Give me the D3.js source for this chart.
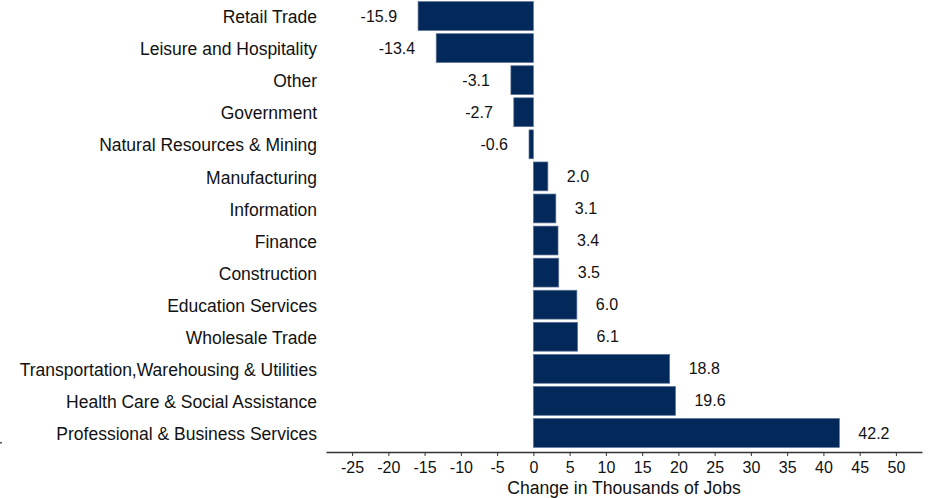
<!DOCTYPE html>
<html>
<head>
<meta charset="utf-8">
<script src="https://cdn.jsdelivr.net/npm/d3@7"></script>
<style>
  html, body { margin: 0; padding: 0; background: #fff; }
  svg { display: block; font-family: "Liberation Sans", Arial, sans-serif; }
</style>
</head>
<body>
<svg id="chart" width="928" height="498"></svg>
<script>
// Employment change by industry, thousands of jobs
const industries = [
  "Retail Trade",
  "Leisure and Hospitality",
  "Other",
  "Government",
  "Natural Resources & Mining",
  "Manufacturing",
  "Information",
  "Finance",
  "Construction",
  "Education Services",
  "Wholesale Trade",
  "Transportation,Warehousing & Utilities",
  "Health Care & Social Assistance",
  "Professional & Business Services"
];
const jobChange = [-15.9, -13.4, -3.1, -2.7, -0.6, 2.0, 3.1, 3.4, 3.5, 6.0, 6.1, 18.8, 19.6, 42.2];
const tickValues = [-25, -20, -15, -10, -5, 0, 5, 10, 15, 20, 25, 30, 35, 40, 45, 50];
const axisTitle = "Change in Thousands of Jobs";

const rows = industries.map((name, i) => ({ name, value: jobChange[i] }));

const svg = d3.select("#chart");
const axisY = 452;

const x = d3.scaleLinear().domain([-28.6, 53.6]).range([326, 922]);
const y = d3.scaleBand().domain(industries).range([0, 449])
  .paddingInner(0.1).paddingOuter(0.05);

const barFill = "#03295a";

// bars
svg.append("g").selectAll("rect")
  .data(rows)
  .join("rect")
  .attr("x", d => x(Math.min(0, d.value)))
  .attr("y", d => y(d.name))
  .attr("width", d => Math.abs(x(d.value) - x(0)))
  .attr("height", y.bandwidth())
  .attr("fill", barFill)
  .attr("stroke", "#5d7398")
  .attr("stroke-width", 0.7);

// value labels
svg.append("g").selectAll("text")
  .data(rows)
  .join("text")
  .attr("x", d => d.value >= 0 ? x(d.value) + 19 : x(d.value) - 21)
  .attr("y", d => y(d.name) + y.bandwidth() / 2)
  .attr("dy", "0.35em")
  .attr("text-anchor", d => d.value >= 0 ? "start" : "end")
  .attr("font-size", 16)
  .attr("fill", "#111")
  .text(d => d.value.toFixed(1));

// category labels
svg.append("g").selectAll("text")
  .data(rows)
  .join("text")
  .attr("x", 317)
  .attr("y", d => y(d.name) + y.bandwidth() / 2 + 1)
  .attr("dy", "0.35em")
  .attr("text-anchor", "end")
  .attr("font-size", 17.5)
  .attr("fill", "#111")
  .text(d => d.name);

// x axis, plain hyphen for negative numbers
const xAxis = d3.axisBottom(x)
  .tickValues(tickValues)
  .tickSize(4)
  .tickSizeOuter(0)
  .tickPadding(6)
  .tickFormat(d => String(d));

const gx = svg.append("g")
  .attr("transform", `translate(0,${axisY})`)
  .call(xAxis);
gx.select(".domain").attr("stroke", "#333").attr("stroke-width", 1.3);
gx.selectAll(".tick line").attr("stroke", "#333");
gx.selectAll(".tick text")
  .attr("font-size", 16)
  .attr("font-family", "Liberation Sans, Arial, sans-serif")
  .attr("fill", "#111");

svg.append("text")
  .attr("x", (x.range()[0] + x.range()[1]) / 2)
  .attr("y", 494)
  .attr("text-anchor", "middle")
  .attr("font-size", 17.6)
  .attr("fill", "#111")
  .text(axisTitle);

// small marker at the left edge
svg.append("rect")
  .attr("x", 0).attr("y", 442)
  .attr("width", 2).attr("height", 1.5)
  .attr("fill", "#555");
</script>
</body>
</html>
